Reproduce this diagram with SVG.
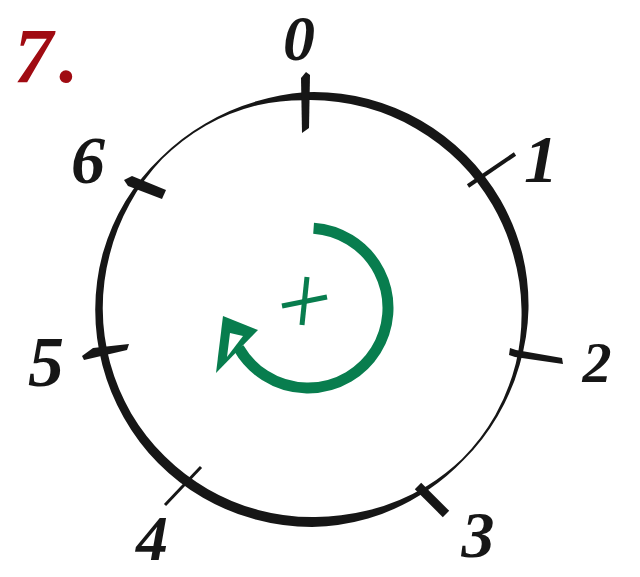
<svg xmlns="http://www.w3.org/2000/svg" width="640" height="577" viewBox="0 0 640 577">
<style>
.tick{stroke:#161616;stroke-linecap:butt}
.num{font-family:"Liberation Serif",serif;font-style:italic;font-weight:bold;fill:#161616;text-anchor:middle}
.grn{fill:#087D4E}
</style>
<rect width="640" height="577" fill="#ffffff"/>
<g id="title"><text x="14" y="82" font-family="Liberation Serif, serif" font-style="italic" font-weight="bold" font-size="78" fill="#A00B12">7<tspan dx="6">.</tspan></text></g>
<g id="ring">
<path fill="#161616" fill-rule="evenodd" d="M304.43 92.13 A216 216 0 0 1 368.29 98.92 A216 216 0 0 1 420.88 120.43 A216 216 0 0 1 465.97 155.03 A216 216 0 0 1 500.57 200.12 A216 216 0 0 1 522.08 252.71 A216 216 0 0 1 528.5 309 A216 216 0 0 1 519.67 364.64 A216 216 0 0 1 497.54 416.13 A216 216 0 0 1 463.32 460.32 A216 216 0 0 1 429.09 489.32 A216 216 0 0 1 368.16 518.6 A216 216 0 0 1 312 527 A216 216 0 0 1 255.58 519.57 A216 216 0 0 1 203 497.79 A216 216 0 0 1 158.03 462.97 A216 216 0 0 1 123.86 417.63 A216 216 0 0 1 102.4 365.16 A216 216 0 0 1 95.25 309 A216 216 0 0 1 102.88 252.97 A216 216 0 0 1 125.38 201.25 A216 216 0 0 1 160.68 157.68 A216 216 0 0 1 205 123.68 A216 216 0 0 1 256.36 101.33 A216 216 0 0 1 304.43 92.13 Z M304.71 100.13 A210 210 0 0 0 257.39 105.2 A210 210 0 0 0 206 125.41 A210 210 0 0 0 162.09 159.09 A210 210 0 0 0 129.71 203.75 A210 210 0 0 0 109.64 254.78 A210 210 0 0 0 102.75 309 A210 210 0 0 0 110.13 363.09 A210 210 0 0 0 131.22 413.38 A210 210 0 0 0 164.75 456.25 A210 210 0 0 0 208 489.13 A210 210 0 0 0 258.17 509.91 A210 210 0 0 0 312 517 A210 210 0 0 0 366.09 510.87 A210 210 0 0 0 426.91 485.97 A210 210 0 0 0 461.91 458.91 A210 210 0 0 0 495.38 414.88 A210 210 0 0 0 515.8 363.61 A210 210 0 0 0 521.5 309 A210 210 0 0 0 513.39 255.04 A210 210 0 0 0 492.35 204.87 A210 210 0 0 0 459.25 161.75 A210 210 0 0 0 416.13 128.65 A210 210 0 0 0 365.96 107.61 A210 210 0 0 0 304.71 100.13 Z"/>
</g>
<g id="ticks">
<polygon fill="#161616" points="306,72 310,75 309,128 302,133 301,78"/>
<line class="tick" stroke-width="4" x1="468" y1="186" x2="515" y2="154"/>
<polygon fill="#161616" points="510,348 516,350 562,358 563,364 515,357 509,355"/>
<line class="tick" stroke-width="9" x1="418" y1="486" x2="446" y2="514"/>
<line class="tick" stroke-width="3" x1="165" y1="505" x2="201" y2="467"/>
<polygon fill="#161616" points="82,356 93,348 129,344 127,350 84,360"/>
<polygon fill="#161616" points="124,180 132,176 166,190 162,199 128,186"/>
</g>
<g id="labels">
<text class="num" x="299" y="60" font-size="64">0</text>
<text class="num" x="541" y="182" font-size="68">1</text>
<text class="num" x="597" y="382" font-size="58">2</text>
<text class="num" x="478" y="557" font-size="66">3</text>
<text class="num" x="152" y="560" font-size="64">4</text>
<text class="num" x="46" y="386" font-size="72">5</text>
<text class="num" x="88" y="183" font-size="68">6</text>
</g>
<g id="rotation">
<path d="M313.6 228.2 A80 80 0 1 1 238.7 348" fill="none" stroke="#087D4E" stroke-width="11"/>
<polygon class="grn" points="223,316 216,373 258,330"/>
<polygon fill="#ffffff" points="230,333 227,357 243,336"/>
<line x1="307" y1="277" x2="302" y2="325" stroke="#087D4E" stroke-width="5"/>
<line x1="282" y1="306" x2="327" y2="297" stroke="#087D4E" stroke-width="5"/>
</g>
</svg>
